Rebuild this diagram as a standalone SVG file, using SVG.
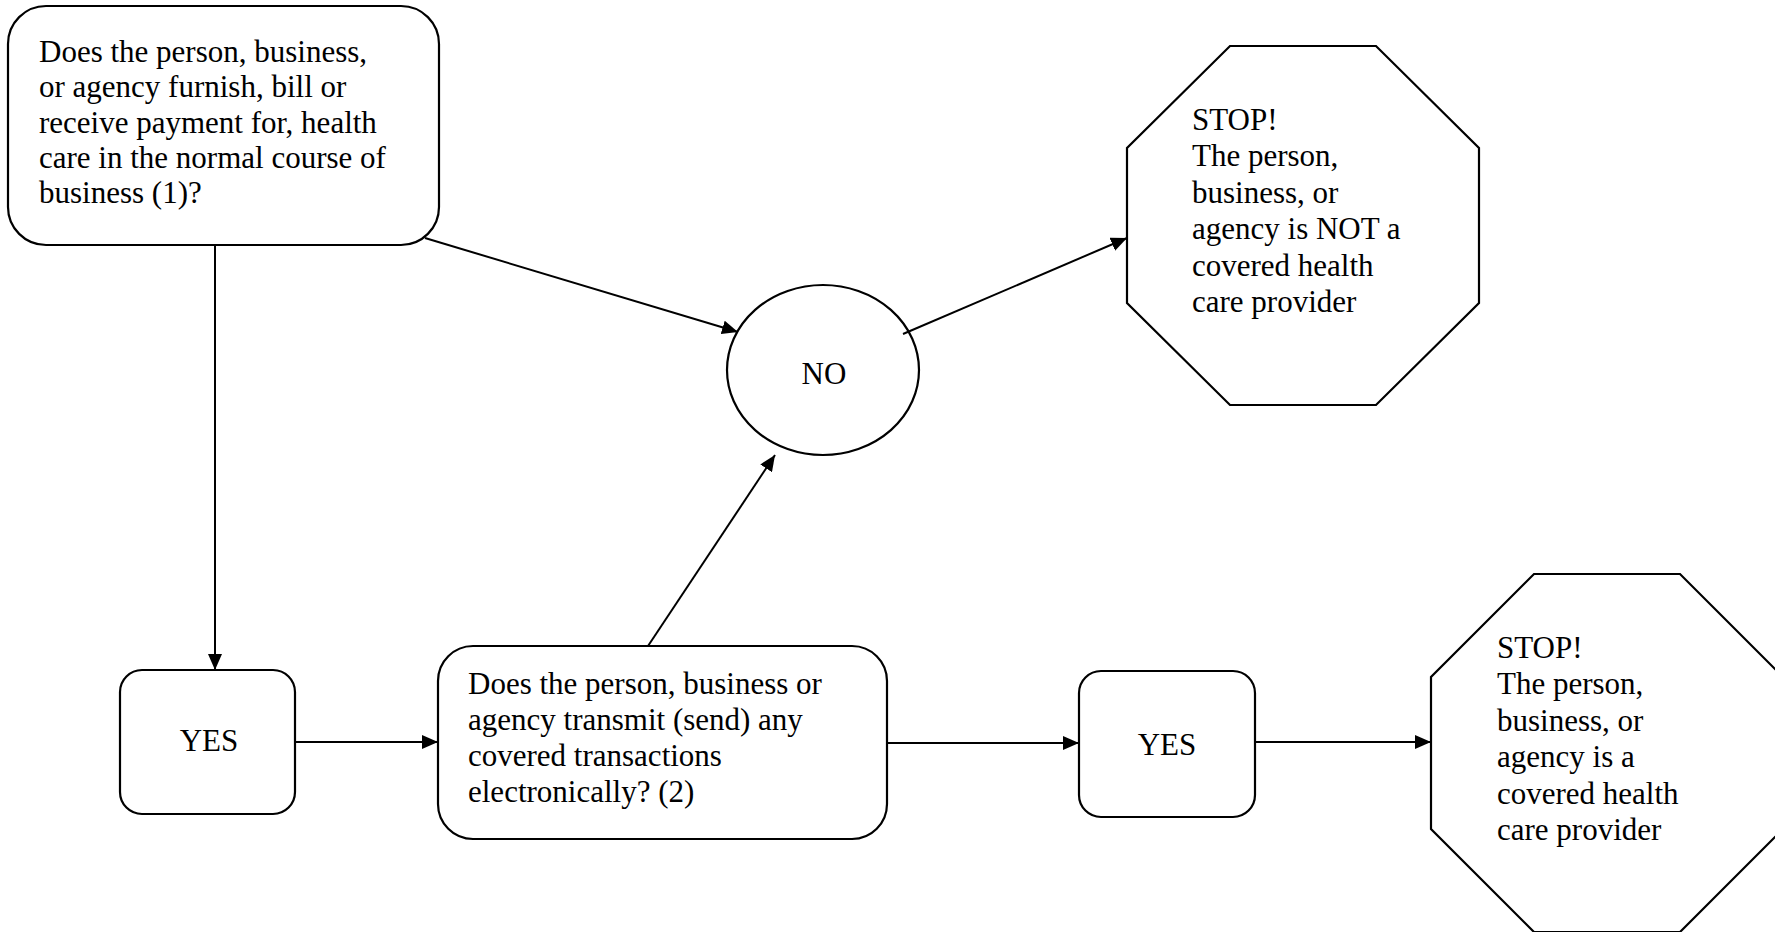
<svg xmlns="http://www.w3.org/2000/svg" width="1775" height="932" viewBox="0 0 1775 932">
<style>
.shape{fill:#fff;stroke:#000;stroke-width:2.2}
.t{font-family:"Liberation Serif","Times New Roman",serif;font-size:31px;fill:#000}
.c{text-anchor:middle}
.conn line{stroke:#000;stroke-width:2;marker-end:url(#ah)}
</style>
<defs>
<marker id="ah" markerWidth="16" markerHeight="14" refX="16" refY="7" orient="auto" markerUnits="userSpaceOnUse">
<path d="M0,0 L16,7 L0,14 Z" fill="#000"/>
</marker>
</defs>
<rect width="1775" height="932" fill="#fff"/>
<g id="q1">
<rect class="shape" x="8" y="6" width="431" height="239" rx="38" ry="38"/>
<text class="t" x="39" y="62">Does the person, business,</text>
<text class="t" x="39" y="97">or agency furnish, bill or</text>
<text class="t" x="39" y="133">receive payment for, health</text>
<text class="t" x="39" y="168">care in the normal course of</text>
<text class="t" x="39" y="203">business (1)?</text>
</g>
<g id="no">
<ellipse class="shape" cx="823" cy="370" rx="96" ry="85"/>
<text class="t c" x="824" y="384">NO</text>
</g>
<g id="stop1">
<polygon class="shape" points="1230,46 1376,46 1479,148 1479,303 1376,405 1230,405 1127,303 1127,148"/>
<text class="t" x="1192" y="130">STOP!</text>
<text class="t" x="1192" y="166">The person,</text>
<text class="t" x="1192" y="203">business, or</text>
<text class="t" x="1192" y="239">agency is NOT a</text>
<text class="t" x="1192" y="276">covered health</text>
<text class="t" x="1192" y="312">care provider</text>
</g>
<g id="yes1">
<rect class="shape" x="120" y="670" width="175" height="144" rx="22" ry="22"/>
<text class="t c" x="209" y="751">YES</text>
</g>
<g id="q2">
<rect class="shape" x="438" y="646" width="449" height="193" rx="35" ry="35"/>
<text class="t" x="468" y="694">Does the person, business or</text>
<text class="t" x="468" y="730">agency transmit (send) any</text>
<text class="t" x="468" y="766">covered transactions</text>
<text class="t" x="468" y="802">electronically? (2)</text>
</g>
<g id="yes2">
<rect class="shape" x="1079" y="671" width="176" height="146" rx="22" ry="22"/>
<text class="t c" x="1167" y="755">YES</text>
</g>
<g id="stop2">
<polygon class="shape" points="1534,574 1680,574 1783,677 1783,829 1680,932 1534,932 1431,829 1431,677"/>
<text class="t" x="1497" y="658">STOP!</text>
<text class="t" x="1497" y="694">The person,</text>
<text class="t" x="1497" y="731">business, or</text>
<text class="t" x="1497" y="767">agency is a</text>
<text class="t" x="1497" y="804">covered health</text>
<text class="t" x="1497" y="840">care provider</text>
</g>
<g id="connectors" class="conn">
<line x1="215" y1="245" x2="215" y2="670"/>
<line x1="425" y1="238" x2="738" y2="332"/>
<line x1="903" y1="334" x2="1127" y2="238"/>
<line x1="648" y1="646" x2="775" y2="455"/>
<line x1="295" y1="742" x2="438" y2="742"/>
<line x1="887" y1="743" x2="1079" y2="743"/>
<line x1="1255" y1="742" x2="1431" y2="742"/>
</g>
</svg>
